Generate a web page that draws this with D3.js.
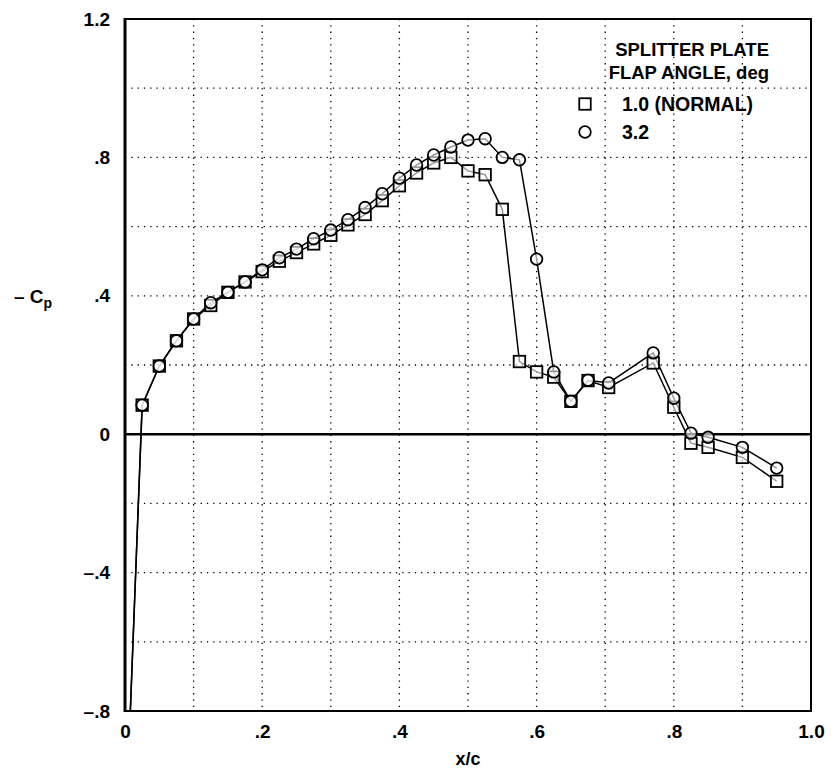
<!DOCTYPE html>
<html>
<head>
<meta charset="utf-8">
<script src="https://cdn.jsdelivr.net/npm/d3@7"></script>
<style>
  body { margin: 0; background: #fff; }
  text { font-family: "Liberation Sans", Arial, sans-serif; font-weight: bold; fill: #000; }
</style>
</head>
<body>
<div id="chart"></div>
<script>
// x/c stations (the first one is off-chart, the line runs out of the bottom)
const xcNormal = [0, 0.025, 0.05, 0.075, 0.1, 0.125, 0.15, 0.175, 0.2, 0.225, 0.25, 0.275, 0.3, 0.325, 0.35, 0.375, 0.4, 0.425, 0.45, 0.475, 0.5, 0.525, 0.55, 0.575, 0.6, 0.625, 0.65, 0.675, 0.705, 0.77, 0.8, 0.825, 0.85, 0.9, 0.95];
const cpNormal = [-1.2, 0.084, 0.197, 0.27, 0.333, 0.372, 0.41, 0.44, 0.47, 0.5, 0.525, 0.55, 0.575, 0.605, 0.635, 0.675, 0.718, 0.755, 0.784, 0.8, 0.761, 0.75, 0.65, 0.21, 0.18, 0.165, 0.095, 0.155, 0.135, 0.206, 0.078, -0.026, -0.038, -0.067, -0.136];

const xcFlap = xcNormal;
const cpFlap = [-1.2, 0.084, 0.197, 0.27, 0.333, 0.38, 0.41, 0.44, 0.475, 0.51, 0.535, 0.565, 0.59, 0.62, 0.655, 0.695, 0.74, 0.778, 0.807, 0.83, 0.85, 0.854, 0.8, 0.793, 0.506, 0.18, 0.095, 0.156, 0.148, 0.235, 0.104, 0.003, -0.009, -0.038, -0.098];

const xTicks = [0, 0.2, 0.4, 0.6, 0.8, 1.0];
const xTickLabels = ["0", ".2", ".4", ".6", ".8", "1.0"];
const yTicks = [-0.8, -0.4, 0, 0.4, 0.8, 1.2];
const yTickLabels = ["\u2013.8", "\u2013.4", "0", ".4", ".8", "1.2"];
const xGrid = [0.1, 0.2, 0.3, 0.4, 0.5, 0.6, 0.7, 0.8, 0.9];
const yGrid = [-0.6, -0.4, -0.2, 0.2, 0.4, 0.6, 0.8, 1.0];

const legendTitle = ["SPLITTER PLATE", "FLAP ANGLE, deg"];
const legendLabels = ["1.0 (NORMAL)", "3.2"];

const width = 831, height = 769;
const margin = { top: 19, right: 20, bottom: 58, left: 125 };

const x = d3.scaleLinear().domain([0, 1]).range([margin.left, width - margin.right]);
const y = d3.scaleLinear().domain([-0.8, 1.2]).range([height - margin.bottom, margin.top]);

const svg = d3.select("#chart").append("svg")
  .attr("width", width)
  .attr("height", height);

svg.append("clipPath").attr("id", "plotClip")
  .append("rect")
  .attr("x", x(0)).attr("y", y(1.2))
  .attr("width", x(1) - x(0)).attr("height", y(-0.8) - y(1.2));

// dotted grid
svg.append("g").selectAll("line")
  .data(xGrid).enter().append("line")
  .attr("x1", d => x(d)).attr("x2", d => x(d))
  .attr("y1", y(1.2)).attr("y2", y(-0.8))
  .attr("stroke", "#000").attr("stroke-width", 1.3)
  .attr("stroke-dasharray", "1.3,5");

svg.append("g").selectAll("line")
  .data(yGrid).enter().append("line")
  .attr("x1", x(0)).attr("x2", x(1))
  .attr("y1", d => y(d)).attr("y2", d => y(d))
  .attr("stroke", "#000").attr("stroke-width", 1.3)
  .attr("stroke-dasharray", "1.3,5");

// zero line
svg.append("line")
  .attr("x1", x(0)).attr("x2", x(1))
  .attr("y1", y(0)).attr("y2", y(0))
  .attr("stroke", "#000").attr("stroke-width", 2.5);

// axes
svg.append("g")
  .attr("transform", `translate(0, ${y(-0.8)})`)
  .call(d3.axisBottom(x).tickValues(xTicks).tickSize(0).tickPadding(14)
    .tickFormat((d, i) => xTickLabels[i]))
  .call(g => g.select(".domain").remove())
  .selectAll("text").attr("font-size", 19).attr("font-family", null);

svg.append("g")
  .attr("transform", `translate(${x(0)}, 0)`)
  .call(d3.axisLeft(y).tickValues(yTicks).tickSize(0).tickPadding(15)
    .tickFormat((d, i) => yTickLabels[i]))
  .call(g => g.select(".domain").remove())
  .selectAll("text").attr("font-size", 19).attr("font-family", null);

// frame
svg.append("rect")
  .attr("x", x(0)).attr("y", y(1.2))
  .attr("width", x(1) - x(0)).attr("height", y(-0.8) - y(1.2))
  .attr("fill", "none").attr("stroke", "#000").attr("stroke-width", 2);
svg.append("line")
  .attr("x1", x(0)).attr("x2", x(0)).attr("y1", y(1.2) - 1).attr("y2", y(-0.8) + 1)
  .attr("stroke", "#000").attr("stroke-width", 3);

// axis titles
svg.append("text")
  .attr("x", x(0.5)).attr("y", 765)
  .attr("text-anchor", "middle").attr("font-size", 18)
  .text("x/c");

const yTitle = svg.append("text")
  .attr("x", 14).attr("y", 303).attr("font-size", 19);
yTitle.append("tspan").text("\u2013 C");
yTitle.append("tspan").attr("font-size", 14).attr("dy", 5).text("p");

// data
const series = [
  { xs: xcNormal, ys: cpNormal, shape: "square" },
  { xs: xcFlap, ys: cpFlap, shape: "circle" }
];

const plot = svg.append("g").attr("clip-path", "url(#plotClip)");
const line = d3.line().x(d => x(d[0])).y(d => y(d[1]));

series.forEach(s => {
  const pts = s.xs.map((v, i) => [v, s.ys[i]]);
  plot.append("path")
    .datum(pts)
    .attr("fill", "none").attr("stroke", "#000").attr("stroke-width", 1.5)
    .attr("d", line);
});

const sq = 11.5, r = 5.8;
function drawMarker(g, shape, cx, cy) {
  if (shape === "square") {
    g.append("rect")
      .attr("x", cx - sq / 2).attr("y", cy - sq / 2)
      .attr("width", sq).attr("height", sq)
      .attr("fill", "#fff").attr("fill-opacity", 0.6)
      .attr("stroke", "#000").attr("stroke-width", 1.8);
  } else {
    g.append("circle")
      .attr("cx", cx).attr("cy", cy).attr("r", r)
      .attr("fill", "#fff").attr("fill-opacity", 0.6)
      .attr("stroke", "#000").attr("stroke-width", 1.8);
  }
}

series.forEach(s => {
  s.xs.forEach((v, i) => drawMarker(plot, s.shape, x(v), y(s.ys[i])));
});

// legend
const legend = svg.append("g");
legend.selectAll("text.title")
  .data(legendTitle).enter().append("text")
  .attr("class", "title")
  .attr("x", 769).attr("y", (d, i) => 56 + i * 23)
  .attr("text-anchor", "end").attr("font-size", 18.5)
  .text(d => d);

legendLabels.forEach((lab, i) => {
  const ly = 104 + i * 28;
  drawMarker(legend, series[i].shape, 585, ly);
  legend.append("text")
    .attr("x", 622).attr("y", ly + 7)
    .attr("font-size", 19.5)
    .text(lab);
});
</script>
</body>
</html>
